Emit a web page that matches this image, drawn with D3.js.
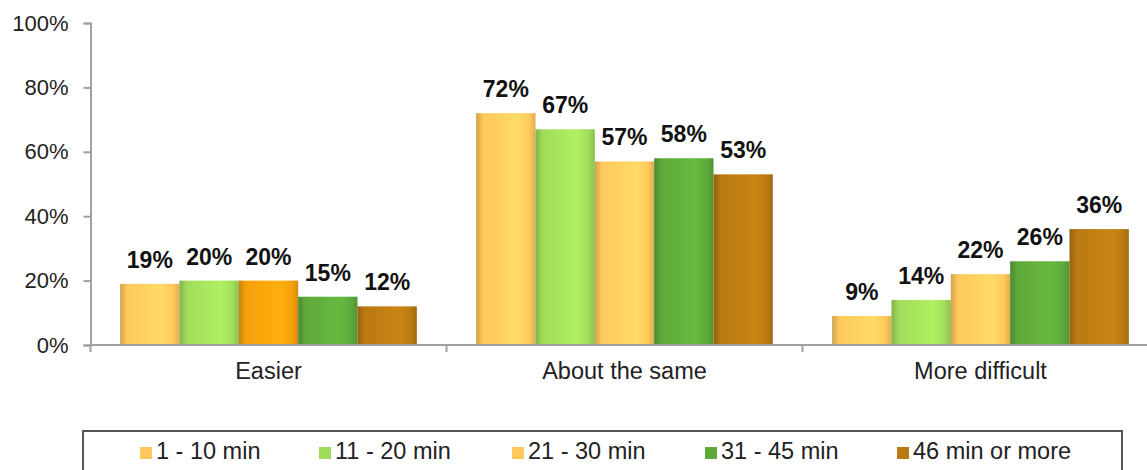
<!DOCTYPE html>
<html>
<head>
<meta charset="utf-8">
<script src="https://cdn.jsdelivr.net/npm/d3@7"></script>
<style>
  body { margin: 0; background: #fff; }
  svg { display: block; font-family: "Liberation Sans", Arial, sans-serif; }
</style>
</head>
<body>
<svg width="1147" height="470"></svg>
<script>
// chart data
const categories = ["Easier", "About the same", "More difficult"];
const seriesNames = ["1 - 10 min", "11 - 20 min", "21 - 30 min", "31 - 45 min", "46 min or more"];
const values = [
  [19, 20, 20, 15, 12],
  [72, 67, 57, 58, 53],
  [9, 14, 22, 26, 36]
];
const yTicks = [0, 20, 40, 60, 80, 100];

// colours per series (the 21-30 bar in "Easier" is drawn orange in the original)
const colors = ["#FFC85C", "#A0DC5A", "#FFC85C", "#5EA93A", "#B97A12"];
const overrides = { "0-2": "#F5A00C" };

const svg = d3.select("svg");
const x0 = 90.5, yBase = 345, yTop = 23;

const x = d3.scaleBand().domain(categories).range([x0, x0 + 356 * 3]);
const xs = d3.scaleBand().domain(d3.range(seriesNames.length))
  .range([0, x.bandwidth()]).paddingOuter(0.5).paddingInner(0);
const y = d3.scaleLinear().domain([0, 100]).range([yBase, yTop]);

// gradients giving the cylinder look
const defs = svg.append("defs");
function grad(id, c) {
  const base = d3.color(c);
  const g = defs.append("linearGradient").attr("id", id).attr("x1", 0).attr("x2", 1).attr("y1", 0).attr("y2", 0);
  g.append("stop").attr("offset", "0%").attr("stop-color", base.darker(0.6));
  g.append("stop").attr("offset", "12%").attr("stop-color", base);
  g.append("stop").attr("offset", "70%").attr("stop-color", base.brighter(0.25));
  g.append("stop").attr("offset", "90%").attr("stop-color", base);
  g.append("stop").attr("offset", "100%").attr("stop-color", base.darker(0.4));
  return "url(#" + id + ")";
}
const fills = colors.map((c, i) => grad("g" + i, c));
const overrideFills = {};
Object.keys(overrides).forEach((k, i) => overrideFills[k] = grad("o" + i, overrides[k]));

// y axis
const yAxis = svg.append("g").attr("transform", `translate(${x0},0)`)
  .call(d3.axisLeft(y).tickValues(yTicks).tickSize(7).tickPadding(15).tickFormat(d => d + "%"));
yAxis.select(".domain").attr("stroke", "#a0a0a0").attr("stroke-width", 2);
yAxis.selectAll(".tick line").attr("stroke", "#a0a0a0").attr("stroke-width", 2);
yAxis.selectAll("text").attr("font-size", 22).attr("fill", "#222")
  .attr("font-family", "Liberation Sans, Arial, sans-serif");

// bars
categories.forEach((cat, ci) => {
  const g = svg.append("g").attr("transform", `translate(${x(cat)},0)`);
  values[ci].forEach((v, si) => {
    const key = ci + "-" + si;
    g.append("rect")
      .attr("x", xs(si))
      .attr("y", y(v))
      .attr("width", xs.bandwidth())
      .attr("height", y(0) - y(v))
      .attr("fill", overrideFills[key] || fills[si]);
    g.append("text")
      .attr("x", xs(si) + xs.bandwidth() / 2)
      .attr("y", y(v) - 16)
      .attr("text-anchor", "middle")
      .attr("font-size", 23)
      .attr("font-weight", "bold")
      .attr("fill", "#111")
      .text(v + "%");
  });
});

// x axis
const xAxis = svg.append("g").attr("transform", `translate(0,${yBase})`);
xAxis.append("line").attr("x1", x0).attr("x2", 1147).attr("stroke", "#a0a0a0").attr("stroke-width", 2);
categories.forEach(c => {
  xAxis.append("line").attr("x1", x(c) + x.bandwidth()).attr("x2", x(c) + x.bandwidth())
    .attr("y1", 0).attr("y2", 7).attr("stroke", "#a0a0a0").attr("stroke-width", 2);
  xAxis.append("text").attr("x", x(c) + x.bandwidth() / 2).attr("y", 34)
    .attr("text-anchor", "middle").attr("font-size", 23.5).attr("fill", "#222").text(c);
});
xAxis.append("line").attr("x1", x0).attr("x2", x0).attr("y1", 0).attr("y2", 7)
  .attr("stroke", "#a0a0a0").attr("stroke-width", 2);

// legend
const legend = svg.append("g");
legend.append("rect").attr("x", 83).attr("y", 431).attr("width", 1039).attr("height", 60)
  .attr("fill", "none").attr("stroke", "#555").attr("stroke-width", 2);
const legendX = [140, 319, 512, 705, 897];
seriesNames.forEach((n, i) => {
  legend.append("rect").attr("x", legendX[i]).attr("y", 447).attr("width", 12).attr("height", 12)
    .attr("fill", colors[i]);
  legend.append("text").attr("x", legendX[i] + 16).attr("y", 459)
    .attr("font-size", 23.5).attr("fill", "#222").text(n);
});
</script>
</body>
</html>
